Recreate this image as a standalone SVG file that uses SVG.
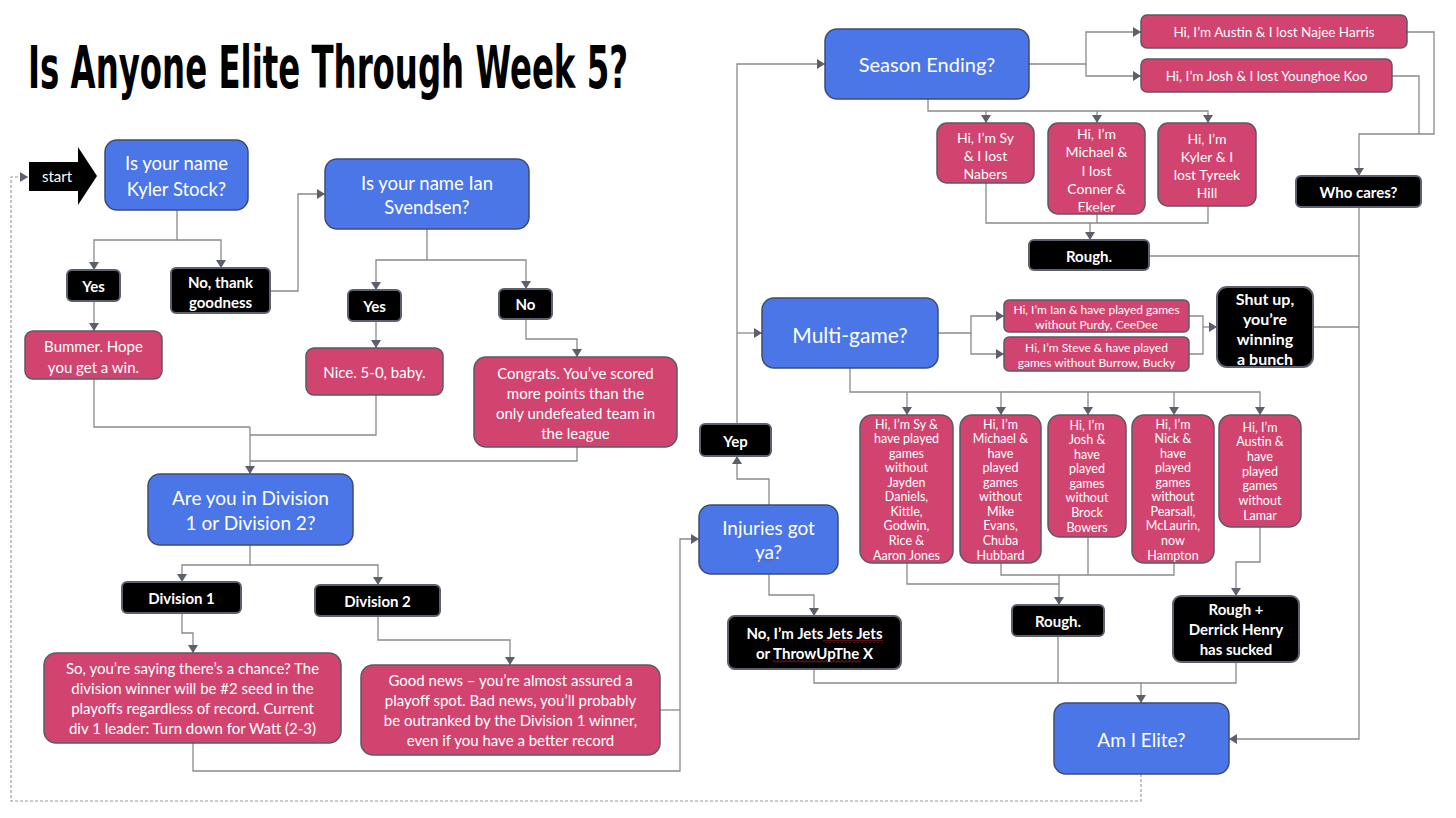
<svg xmlns="http://www.w3.org/2000/svg" width="1456" height="818" viewBox="0 0 1456 818">
<style>
.blue{fill:#4A76E8;stroke:#404C6E;stroke-width:1.5}
.pink{fill:#D1446F;stroke:#5A5A66;stroke-width:1.5}
.blk{fill:#000;stroke:#5C616D;stroke-width:2}
text{font-family:Lato,"Open Sans","Liberation Sans",sans-serif;fill:#fff;text-anchor:middle;dominant-baseline:central}
.b{font-weight:bold}
.c{fill:none;stroke:#8A8A8A;stroke-width:1.3}
.d{fill:none;stroke:#9A9A9A;stroke-width:1.2;stroke-dasharray:3 2}
.title{font-family:"Liberation Sans Narrow","DejaVu Sans Condensed","Liberation Sans",sans-serif;font-weight:bold;fill:#000;text-anchor:start;dominant-baseline:auto}
</style>
<defs>
<marker id="ah" markerUnits="userSpaceOnUse" markerWidth="8" markerHeight="10" viewBox="0 0 8 10" refX="8" refY="5" orient="auto">
<path d="M0,0 L8,5 L0,10 z" fill="#5C606B"/>
</marker>
<pattern id="sq" width="4" height="3" patternUnits="userSpaceOnUse">
<path d="M0,2.5 L2,0.5 L4,2.5" fill="none" stroke="#E02020" stroke-width="0.8"/>
</pattern>
</defs>
<rect width="1456" height="818" fill="#fff"/>
<text class="title" transform="translate(28,88) scale(0.6,1)" x="0" y="0" font-size="58" textLength="1000" lengthAdjust="spacingAndGlyphs">Is Anyone Elite Through Week 5?</text>

<g id="connectors">
<path class="d" d="M1141,774 V801 H11 V177 H28" marker-end="url(#ah)"/>
<path class="c" d="M177,210 V240 H94 V270" marker-end="url(#ah)"/>
<path class="c" d="M177,240 H221 V268" marker-end="url(#ah)"/>
<path class="c" d="M270,291 H298 V194 H325" marker-end="url(#ah)"/>
<path class="c" d="M94,301 V331" marker-end="url(#ah)"/>
<path class="c" d="M427,229 V260 H376 V290" marker-end="url(#ah)"/>
<path class="c" d="M427,260 H526 V289" marker-end="url(#ah)"/>
<path class="c" d="M376,321 V348" marker-end="url(#ah)"/>
<path class="c" d="M526,319 V339 H577 V357" marker-end="url(#ah)"/>
<path class="c" d="M94,379 V427 H250"/>
<path class="c" d="M376,395 V435 H250"/>
<path class="c" d="M577,447 V461 H250"/>
<path class="c" d="M250,427 V474" marker-end="url(#ah)"/>
<path class="c" d="M250,545 V565 H182 V582" marker-end="url(#ah)"/>
<path class="c" d="M250,565 H378 V585" marker-end="url(#ah)"/>
<path class="c" d="M182,613 V633 H193 V653" marker-end="url(#ah)"/>
<path class="c" d="M378,616 V640 H510 V665" marker-end="url(#ah)"/>
<path class="c" d="M193,743 V771 H680 V539 H699" marker-end="url(#ah)"/>
<path class="c" d="M660,710 H680"/>
<path class="c" d="M769,505 V479 H737 V456" marker-end="url(#ah)"/>
<path class="c" d="M737,424 V64 H825" marker-end="url(#ah)"/>
<path class="c" d="M737,333 H762" marker-end="url(#ah)"/>
<path class="c" d="M769,574 V595 H814 V616" marker-end="url(#ah)"/>
<path class="c" d="M1029,64 H1086 V32 H1141" marker-end="url(#ah)"/>
<path class="c" d="M1086,64 V76 H1141" marker-end="url(#ah)"/>
<path class="c" d="M928,99 V111 H1208 V123" marker-end="url(#ah)"/>
<path class="c" d="M986,111 V123" marker-end="url(#ah)"/>
<path class="c" d="M1097,111 V123" marker-end="url(#ah)"/>
<path class="c" d="M986,183 V223 H1208 V206"/>
<path class="c" d="M1097,214 V223"/>
<path class="c" d="M1090,223 V240" marker-end="url(#ah)"/>
<path class="c" d="M1407,32 H1434 V134 H1359 V176" marker-end="url(#ah)"/>
<path class="c" d="M1392,76 H1419 V134"/>
<path class="c" d="M1359,207 V739 H1229" marker-end="url(#ah)"/>
<path class="c" d="M1149,256 H1359"/>
<path class="c" d="M1313,327 H1359"/>
<path class="c" d="M938,333 H971 V316 H1004" marker-end="url(#ah)"/>
<path class="c" d="M971,333 V354 H1004" marker-end="url(#ah)"/>
<path class="c" d="M1189,316 H1203 V354 H1189"/>
<path class="c" d="M1203,327 H1217" marker-end="url(#ah)"/>
<path class="c" d="M850,368 V392 H1260 V415" marker-end="url(#ah)"/>
<path class="c" d="M907,392 V415" marker-end="url(#ah)"/>
<path class="c" d="M1001,392 V415" marker-end="url(#ah)"/>
<path class="c" d="M1088,392 V415" marker-end="url(#ah)"/>
<path class="c" d="M1174,392 V415" marker-end="url(#ah)"/>
<path class="c" d="M907,563 V584 H1059"/>
<path class="c" d="M1001,563 V575 H1174 V563"/>
<path class="c" d="M1088,537 V575"/>
<path class="c" d="M1059,575 V605" marker-end="url(#ah)"/>
<path class="c" d="M1260,527 V562 H1236 V596" marker-end="url(#ah)"/>
<path class="c" d="M814,669 V683 H1141 V703" marker-end="url(#ah)"/>
<path class="c" d="M1058,636 V683"/>
<path class="c" d="M1236,662 V683 H1141"/>
</g>

<g id="start">
<polygon points="29,162 78,162 78,147 97,176 78,205 78,191 29,191" fill="#000"/>
<text x="57" y="176" font-size="15">start</text>
</g>

<g id="q-kyler">
<rect class="blue" x="105" y="140" width="143" height="70" rx="12"/>
<text x="176.5" y="163" font-size="18.5">Is your name</text>
<text x="176.5" y="189" font-size="18.5">Kyler Stock?</text>
</g>
<g id="q-ian">
<rect class="blue" x="325" y="159" width="204" height="70" rx="12"/>
<text x="427" y="183" font-size="18.5">Is your name Ian</text>
<text x="427" y="207" font-size="18.5">Svendsen?</text>
</g>
<g id="q-division">
<rect class="blue" x="148" y="474" width="205" height="71" rx="12"/>
<text x="250.5" y="497" font-size="19">Are you in Division</text>
<text x="250.5" y="522" font-size="19">1 or Division 2?</text>
</g>
<g id="q-injuries">
<rect class="blue" x="699" y="505" width="139" height="69" rx="12"/>
<text x="768.5" y="527" font-size="19">Injuries got</text>
<text x="768.5" y="551" font-size="19">ya?</text>
<rect x="754" y="559" width="20" height="3" fill="url(#sq)"/>
</g>
<g id="q-season">
<rect class="blue" x="825" y="29" width="204" height="70" rx="12"/>
<text x="927" y="64" font-size="20">Season Ending?</text>
</g>
<g id="q-multi">
<rect class="blue" x="762" y="298" width="176" height="70" rx="12"/>
<text x="850" y="334" font-size="21">Multi-game?</text>
</g>
<g id="q-elite">
<rect class="blue" x="1054" y="703" width="175" height="71" rx="12"/>
<text x="1141.5" y="739" font-size="19">Am I Elite?</text>
</g>

<g id="a-yes1">
<rect class="blk" x="67" y="270" width="53" height="31" rx="5"/>
<text class="b" x="93.5" y="286" font-size="15">Yes</text>
</g>
<g id="a-no-thank">
<rect class="blk" x="171" y="268" width="99" height="45" rx="5"/>
<text class="b" x="220.5" y="282" font-size="15">No, thank</text>
<text class="b" x="220.5" y="302" font-size="15">goodness</text>
</g>
<g id="a-yes2">
<rect class="blk" x="348" y="290" width="53" height="31" rx="5"/>
<text class="b" x="374.5" y="306" font-size="15">Yes</text>
</g>
<g id="a-no">
<rect class="blk" x="499" y="289" width="53" height="30" rx="5"/>
<text class="b" x="525.5" y="304" font-size="15">No</text>
</g>
<g id="a-div1">
<rect class="blk" x="122" y="582" width="119" height="31" rx="5"/>
<text class="b" x="181.5" y="598" font-size="15">Division 1</text>
</g>
<g id="a-div2">
<rect class="blk" x="315" y="585" width="125" height="31" rx="5"/>
<text class="b" x="377.5" y="601" font-size="15">Division 2</text>
</g>
<g id="a-yep">
<rect class="blk" x="700" y="424" width="71" height="32" rx="5"/>
<text class="b" x="735.5" y="441" font-size="15">Yep</text>
</g>
<g id="a-jets">
<rect class="blk" x="728" y="616" width="173" height="53" rx="7"/>
<text class="b" x="814.5" y="633" font-size="15">No, I’m Jets Jets Jets</text>
<text class="b" x="814.5" y="653" font-size="15">or ThrowUpThe X</text>
<rect x="823" y="640" width="60" height="3" fill="url(#sq)"/>
<rect x="773" y="660" width="88" height="3" fill="url(#sq)"/>
</g>
<g id="a-rough2">
<rect class="blk" x="1012" y="605" width="92" height="31" rx="5"/>
<text class="b" x="1058" y="621" font-size="15">Rough.</text>
</g>
<g id="a-henry">
<rect class="blk" x="1173" y="596" width="126" height="66" rx="8"/>
<text class="b" x="1236" y="609" font-size="15">Rough +</text>
<text class="b" x="1236" y="629" font-size="15">Derrick Henry</text>
<text class="b" x="1236" y="649" font-size="15">has sucked</text>
</g>
<g id="a-rough1">
<rect class="blk" x="1029" y="240" width="120" height="30" rx="5"/>
<text class="b" x="1089" y="256" font-size="15">Rough.</text>
</g>
<g id="a-whocares">
<rect class="blk" x="1296" y="176" width="125" height="31" rx="5"/>
<text class="b" x="1358.5" y="192" font-size="15">Who cares?</text>
</g>
<g id="a-shutup">
<rect class="blk" x="1217" y="287" width="96" height="80" rx="10"/>
<text class="b" x="1265" y="298" font-size="16">Shut up,</text>
<text class="b" x="1265" y="318" font-size="16">you’re</text>
<text class="b" x="1265" y="338" font-size="16">winning</text>
<text class="b" x="1265" y="358" font-size="16">a bunch</text>
</g>

<g id="r-bummer">
<rect class="pink" x="25" y="331" width="137" height="48" rx="8"/>
<text x="93.5" y="346" font-size="15">Bummer. Hope</text>
<text x="93.5" y="367" font-size="15">you get a win.</text>
</g>
<g id="r-nice">
<rect class="pink" x="306" y="348" width="137" height="47" rx="8"/>
<text x="374.5" y="372" font-size="15">Nice. 5-0, baby.</text>
</g>
<g id="r-congrats">
<rect class="pink" x="474" y="357" width="203" height="90" rx="12"/>
<text x="575.5" y="373" font-size="15">Congrats. You’ve scored</text>
<text x="575.5" y="393" font-size="15">more points than the</text>
<text x="575.5" y="413" font-size="15">only undefeated team in</text>
<text x="575.5" y="433" font-size="15">the league</text>
</g>
<g id="r-div1">
<rect class="pink" x="44" y="653" width="297" height="90" rx="12"/>
<text x="192.5" y="668" font-size="15">So, you’re saying there’s a chance? The</text>
<text x="192.5" y="688" font-size="15">division winner will be #2 seed in the</text>
<text x="192.5" y="708" font-size="15">playoffs regardless of record. Current</text>
<text x="192.5" y="728" font-size="15">div 1 leader: Turn down for Watt (2-3)</text>
</g>
<g id="r-div2">
<rect class="pink" x="361" y="665" width="299" height="90" rx="12"/>
<text x="510.5" y="680" font-size="15">Good news – you’re almost assured a</text>
<text x="510.5" y="700" font-size="15">playoff spot. Bad news, you’ll probably</text>
<text x="510.5" y="720" font-size="15">be outranked by the Division 1 winner,</text>
<text x="510.5" y="740" font-size="15">even if you have a better record</text>
</g>
<g id="r-austin-najee">
<rect class="pink" x="1141" y="15" width="266" height="33" rx="6"/>
<text x="1274" y="32" font-size="13.5">Hi, I’m Austin &amp; I lost Najee Harris</text>
</g>
<g id="r-josh-koo">
<rect class="pink" x="1141" y="59" width="251" height="33" rx="6"/>
<text x="1266.5" y="76" font-size="13.5">Hi, I’m Josh &amp; I lost Younghoe Koo</text>
</g>
<g id="r-sy-nabers">
<rect class="pink" x="937" y="123" width="97" height="60" rx="10"/>
<text x="985.5" y="137" font-size="14">Hi, I’m Sy</text>
<text x="985.5" y="155" font-size="14">&amp; I lost</text>
<text x="985.5" y="173" font-size="14">Nabers</text>
</g>
<g id="r-michael-lost">
<rect class="pink" x="1048" y="123" width="97" height="91" rx="10"/>
<text x="1096.5" y="133" font-size="14">Hi, I’m</text>
<text x="1096.5" y="151" font-size="14">Michael &amp;</text>
<text x="1096.5" y="170" font-size="14">I lost</text>
<text x="1096.5" y="188" font-size="14">Conner &amp;</text>
<text x="1096.5" y="206" font-size="14">Ekeler</text>
<rect x="1078" y="210" width="38" height="3" fill="url(#sq)"/>
</g>
<g id="r-kyler-hill">
<rect class="pink" x="1158" y="123" width="98" height="83" rx="10"/>
<text x="1207" y="138" font-size="14">Hi, I’m</text>
<text x="1207" y="156" font-size="14">Kyler &amp; I</text>
<text x="1207" y="174" font-size="14">lost Tyreek</text>
<text x="1207" y="192" font-size="14">Hill</text>
</g>
<g id="r-ian-purdy">
<rect class="pink" x="1004" y="300" width="185" height="32" rx="5"/>
<text x="1096.5" y="309" font-size="12">Hi, I’m Ian &amp; have played games</text>
<text x="1096.5" y="324" font-size="12">without Purdy, CeeDee</text>
<rect x="1116" y="328" width="38" height="3" fill="url(#sq)"/>
</g>
<g id="r-steve-burrow">
<rect class="pink" x="1004" y="337" width="185" height="34" rx="5"/>
<text x="1096.5" y="347" font-size="12">Hi, I’m Steve &amp; have played</text>
<text x="1096.5" y="362" font-size="12">games without Burrow, Bucky</text>
</g>
<g id="r-sy-games" font-size="12.5">
<rect class="pink" x="860" y="415" width="93" height="148" rx="12"/>
<text x="906.5" y="424">Hi, I’m Sy &amp;</text>
<text x="906.5" y="438.6">have played</text>
<text x="906.5" y="453.1">games</text>
<text x="906.5" y="467.7">without</text>
<text x="906.5" y="482.2">Jayden</text>
<text x="906.5" y="496.8">Daniels,</text>
<text x="906.5" y="511.3">Kittle,</text>
<text x="906.5" y="525.9">Godwin,</text>
<text x="906.5" y="540.4">Rice &amp;</text>
<text x="906.5" y="555">Aaron Jones</text>
</g>
<g id="r-michael-games" font-size="12.5">
<rect class="pink" x="960" y="415" width="81" height="148" rx="12"/>
<text x="1000.5" y="424">Hi, I’m</text>
<text x="1000.5" y="438.6">Michael &amp;</text>
<text x="1000.5" y="453.1">have</text>
<text x="1000.5" y="467.7">played</text>
<text x="1000.5" y="482.2">games</text>
<text x="1000.5" y="496.8">without</text>
<text x="1000.5" y="511.3">Mike</text>
<text x="1000.5" y="525.9">Evans,</text>
<text x="1000.5" y="540.4">Chuba</text>
<text x="1000.5" y="555">Hubbard</text>
</g>
<g id="r-josh-games" font-size="12.5">
<rect class="pink" x="1048" y="415" width="78" height="122" rx="12"/>
<text x="1087" y="425">Hi, I’m</text>
<text x="1087" y="439.6">Josh &amp;</text>
<text x="1087" y="454.1">have</text>
<text x="1087" y="468.7">played</text>
<text x="1087" y="483.3">games</text>
<text x="1087" y="497.9">without</text>
<text x="1087" y="512.4">Brock</text>
<text x="1087" y="527">Bowers</text>
</g>
<g id="r-nick-games" font-size="12.5">
<rect class="pink" x="1132" y="415" width="82" height="148" rx="12"/>
<text x="1173" y="424">Hi, I’m</text>
<text x="1173" y="438.6">Nick &amp;</text>
<text x="1173" y="453.1">have</text>
<text x="1173" y="467.7">played</text>
<text x="1173" y="482.2">games</text>
<text x="1173" y="496.8">without</text>
<text x="1173" y="511.3">Pearsall,</text>
<text x="1173" y="525.9">McLaurin,</text>
<text x="1173" y="540.4">now</text>
<text x="1173" y="555">Hampton</text>
</g>
<g id="r-austin-games" font-size="12.5">
<rect class="pink" x="1219" y="415" width="82" height="112" rx="12"/>
<text x="1260" y="427">Hi, I’m</text>
<text x="1260" y="441.7">Austin &amp;</text>
<text x="1260" y="456.3">have</text>
<text x="1260" y="471">played</text>
<text x="1260" y="485.7">games</text>
<text x="1260" y="500.3">without</text>
<text x="1260" y="515">Lamar</text>
</g>
</svg>
